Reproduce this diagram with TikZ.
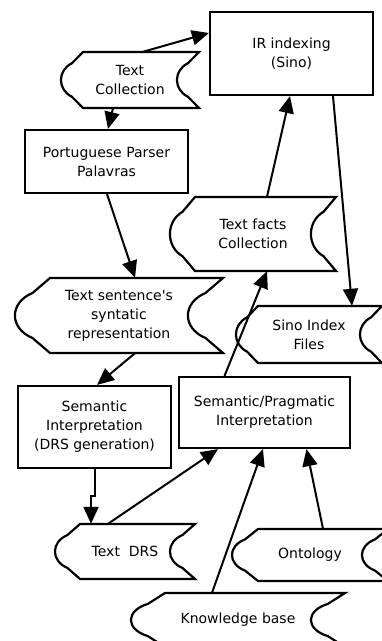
\documentclass[tikz,border=0pt]{standalone}
\usepackage{fontspec}
\setmainfont{DejaVu Sans}
\usetikzlibrary{arrows.meta}
% stored-data shape: #1 left corner x, #2 right corner x, #3 top y, #4 bottom y, #5 curve depth
\newcommand\sdshape[5]{%
  \pgfmathsetmacro\sdA{#3+0.2*(#4-#3)}%
  \pgfmathsetmacro\sdB{#3+0.33*(#4-#3)}%
  \pgfmathsetmacro\sdC{#3+0.67*(#4-#3)}%
  \pgfmathsetmacro\sdD{#3+0.8*(#4-#3)}%
  \pgfmathsetmacro\sdLa{#1-0.5*#5}%
  \pgfmathsetmacro\sdLb{#1-1.17*#5}%
  \pgfmathsetmacro\sdRa{#2-0.5*#5}%
  \pgfmathsetmacro\sdRb{#2-1.17*#5}%
  \draw[sdline] (#1,#3) -- (#2,#3) -- (\sdRa,\sdA) .. controls (\sdRb,\sdB) and (\sdRb,\sdC) .. (\sdRa,\sdD) -- (#2,#4) -- (#1,#4) -- (\sdLa,\sdD) .. controls (\sdLb,\sdC) and (\sdLb,\sdB) .. (\sdLa,\sdA) -- cycle;%
}
\begin{document}
\begin{tikzpicture}[x=1pt,y=-1pt,
  txt/.style={align=center, font=\fontsize{14}{19}\selectfont, inner sep=0pt},
  procbox/.style={txt, draw, line width=2.2pt, fill=white},
  sdline/.style={line width=2.2pt, line join=miter, fill=white},
  arr/.style={line width=2pt, -{Triangle[length=17pt,width=15pt]}}]
\path[use as bounding box, clip] (0,0) rectangle (382,641);
\fill[white] (0,0) rectangle (382,641);

% process boxes
\node[procbox, minimum width=163pt, minimum height=83pt] (ir) at (291.5,53.5) {IR indexing\\(Sino)};
\node[procbox, minimum width=163pt, minimum height=63pt] (pp) at (106.5,161.5) {Portuguese Parser\\Palavras};
\node[procbox, minimum width=153pt, minimum height=82pt] (si) at (94.5,427) {Semantic\\Interpretation\\(DRS generation)};
\node[procbox, minimum width=171pt, minimum height=71pt] (sp) at (264.5,412.5) {Semantic/Pragmatic\\Interpretation};

% stored-data shapes
\sdshape{83}{199}{52}{108}{22}
\node[txt, minimum width=138pt, minimum height=56pt] (tc) at (130,80) {Text\\Collection};
\sdshape{195}{336}{197}{271}{25}
\node[txt, minimum width=166pt, minimum height=74pt] (tf) at (253,234) {Text facts\\Collection};
\sdshape{50}{223}{278}{353}{35}
\node[txt, minimum width=208pt, minimum height=75pt] (ts) at (119,315.5) {Text sentence\textquotesingle s\\syntatic\\representation};
\sdshape{258}{382}{306}{363}{22}
\node[txt, minimum width=146pt, minimum height=57pt] (sino) at (309,334.5) {Sino Index\\Files};
\sdshape{80}{195}{524}{579}{25}
\node[txt, minimum width=140pt, minimum height=55pt] (drs) at (125,551.5) {Text~~DRS};
\sdshape{258}{388}{529}{581}{26}
\node[txt, minimum width=156pt, minimum height=52pt] (onto) at (310,555) {Ontology};
\sdshape{165}{345}{593}{647}{34}
\node[txt, minimum width=214pt, minimum height=54pt] (kb) at (238,620) {Knowledge base};

% connectors
\draw[arr] ([xshift=13pt]tc.north) -- ([yshift=20.5pt]ir.west);
\draw[arr] ([xshift=-17pt]tc.south) -- ([xshift=1.5pt]pp.north);
\draw[arr] ([xshift=0.5pt]pp.south) -- ([xshift=16pt]ts.north);
\draw[arr] ([xshift=16pt]ts.south) -- ([xshift=2.5pt]si.north);
\draw[arr] (si.south) -- ++(0,27) -| ([xshift=-34pt]drs.north);
\draw[arr] ([xshift=-17pt]drs.north) -- ([xshift=-46.5pt]sp.south);
\draw[arr] ([xshift=-26pt]kb.north) -- ([xshift=-1.5pt]sp.south);
\draw[arr] ([xshift=13pt]onto.north) -- ([xshift=42pt]sp.south);
\draw[arr] ([xshift=-40pt]sp.north) -- ([xshift=14pt]tf.south);
\draw[arr] ([xshift=14pt]tf.north) -- ([xshift=-1.5pt]ir.south);
\draw[arr] ([xshift=41.5pt]ir.south) -- ([xshift=43pt]sino.north);
\end{tikzpicture}
\end{document}
